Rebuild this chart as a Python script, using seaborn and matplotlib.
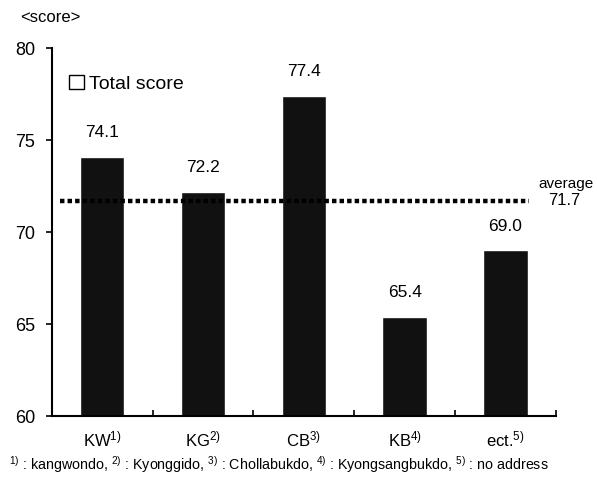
import numpy as np
import pandas as pd
import seaborn as sns
import matplotlib.pyplot as plt
from matplotlib.patches import Patch
from matplotlib.ticker import FixedLocator

# Regions and total scores
regions = ["KW$^{1)}$", "KG$^{2)}$", "CB$^{3)}$", "KB$^{4)}$", "ect.$^{5)}$"]
scores = [74.1, 72.2, 77.4, 65.4, 69.0]
average = 71.7
y_ticks = [60, 65, 70, 75, 80]

sns.set_theme(style="white")
plt.rcParams["font.family"] = ["Liberation Sans", "DejaVu Sans"]
plt.rcParams["mathtext.fontset"] = "custom"
plt.rcParams["mathtext.rm"] = "Liberation Sans"
plt.rcParams["mathtext.it"] = "Liberation Sans"
plt.rcParams["mathtext.default"] = "regular"
plt.rcParams["text.color"] = "black"
plt.rcParams["xtick.color"] = "black"
plt.rcParams["ytick.color"] = "black"

df = pd.DataFrame({"region": regions, "score": scores})

fig = plt.figure(figsize=(5.97, 4.86), dpi=100)
ax = fig.add_axes([0.087, 0.144, 0.844, 0.757])

sns.barplot(data=df, x="region", y="score", color="#111111", width=0.44,
            saturation=1, ax=ax)

# average line
ax.hlines(average, -0.42, 4.23, colors="black", linewidth=3.2,
          linestyles=(0, (1, 0.7)), zorder=3)
ax.text(4.88, average + 0.55, "average", ha="right", va="bottom", fontsize=11,
        clip_on=False)
ax.text(4.74, average + 0.45, f"{average:.1f}", ha="right", va="top", fontsize=12,
        clip_on=False)

for i, v in enumerate(scores):
    ax.text(i, v + 0.9, f"{v:.1f}", ha="center", va="bottom", fontsize=12.5)

ax.set_ylim(60, 80)
ax.set_xlim(-0.5, 4.5)
ax.set_yticks(y_ticks)
ax.set_xlabel("")
ax.set_ylabel("")
ax.tick_params(axis="y", left=True, length=4, width=1.2, labelsize=13, pad=8)
ax.tick_params(axis="x", which="major", bottom=False, labelsize=12, pad=4)
ax.xaxis.set_minor_locator(FixedLocator([0.5, 1.5, 2.5, 3.5, 4.5]))
ax.tick_params(axis="x", which="minor", bottom=True, direction="in", length=4, width=1.2)
for s in ["top", "right"]:
    ax.spines[s].set_visible(False)
for s in ["left", "bottom"]:
    ax.spines[s].set_color("black")
    ax.spines[s].set_linewidth(1.5)

ax.legend(handles=[Patch(facecolor="white", edgecolor="black", linewidth=1,
                         label="Total score")],
          loc="upper left", bbox_to_anchor=(0.0, 0.975), frameon=False,
          fontsize=14, handlelength=0.75, handleheight=0.75, handletextpad=0.25,
          labelcolor="black")

fig.text(0.033, 0.963, "<score>", fontsize=12, va="center")
fig.text(0.015, 0.045,
         "$^{1)}$ : kangwondo, $^{2)}$ : Kyonggido, $^{3)}$ : Chollabukdo, "
         "$^{4)}$ : Kyongsangbukdo, $^{5)}$ : no address",
         fontsize=10.3, va="center")

fig.savefig("out.png", dpi=100, facecolor="white")
